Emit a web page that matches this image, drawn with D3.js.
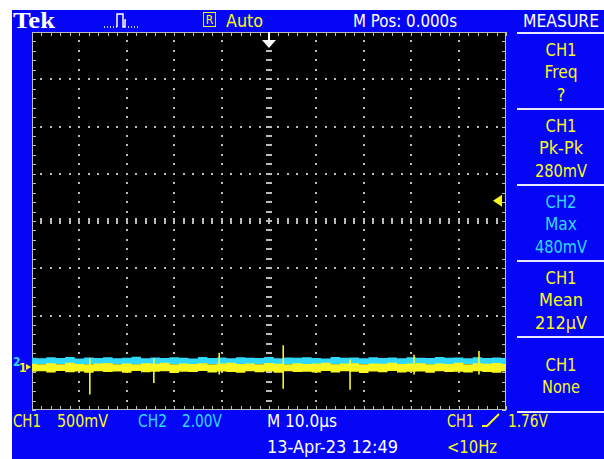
<!DOCTYPE html>
<html>
<head>
<meta charset="UTF-8">
<style>
  body { margin: 0; background: #fff; }
  svg { display: block; }
</style>
<script src="https://d3js.org/d3.v7.min.js"></script>
</head>
<body>
<svg id="scope"></svg>
<script>
// --- data ---
const timeDomain = [-50, 50];          // µs, 10 µs/div
const ch1VoltsPerDiv = 0.5, ch2VoltsPerDiv = 2.0;
const ch1Pos = -3.09, ch2Pos = -2.98;  // ground marker positions, divisions
const triggerLevel = 1.76;             // V on CH1

// envelope samples every 2 µs, in mV
const sampleTimes = d3.range(-50, 51, 2);
const ch1Hi = [35,30,40,28,45,33,30,38,42,30,36,28,40,34,45,30,38,32,41,29,36,44,31,38,30,42,35,28,40,33,37,45,30,36,41,29,38,34,44,31,36,40,28,37,33,45,30,39,35,42,32];
const ch1Lo = [-50,-45,-58,-42,-55,-48,-62,-44,-52,-47,-60,-43,-56,-50,-46,-63,-49,-54,-41,-58,-47,-52,-60,-45,-55,-48,-61,-44,-53,-50,-57,-42,-59,-46,-51,-64,-48,-55,-43,-58,-50,-47,-62,-45,-54,-49,-57,-44,-52,-60,-48];
const ch2Hi = [170,150,190,160,200,145,180,165,195,155,175,210,150,185,160,190,170,145,200,165,180,155,195,170,160,205,150,185,175,190,160,145,200,170,185,155,195,165,180,150,190,175,160,205,170,185,150,195,165,180,160];
const ch2Lo = [-110,-100,-120,-105,-95,-115,-100,-110,-125,-100,-105,-115,-95,-110,-120,-100,-105,-115,-110,-95,-100,-120,-105,-110,-100,-115,-95,-105,-120,-110,-100,-105,-115,-95,-110,-100,-120,-105,-110,-95,-115,-100,-110,-105,-120,-100,-95,-110,-115,-105,-100];

// glitches on CH1: time µs, high mV, low mV
const spikeTimes = [-37.8, -24.3, -10.5, 3.0, 17.1, 30.6, 44.3];
const spikeHi    = [90, 90, 150, 230, 80, 130, 170];
const spikeLo    = [-290, -170, -80, -230, -240, -80, -80];

// readouts
const measureBoxes = [
  ["CH1", "Freq", "?"],
  ["CH1", "Pk-Pk", "280mV"],
  ["CH2", "Max", "480mV"],
  ["CH1", "Mean", "212µV"],
  ["CH1", "None"]
];

const width = 604, height = 459;
const blue = "#0606f6", yellow = "#f8f820", cyan = "#30d8ff", grid = "#bcbcbc";
const uiFont = '"DejaVu Sans Condensed", "Liberation Sans Narrow", sans-serif';

const svg = d3.select("#scope").attr("width", width).attr("height", height);

svg.append("rect").attr("width", width).attr("height", height).attr("fill", "#fff");
svg.append("rect").attr("x", 12).attr("y", 10).attr("width", 592).attr("height", 449).attr("fill", blue);

// graticule
const gx0 = 32, gx1 = 506, gy0 = 32, gy1 = 410;
const x = d3.scaleLinear().domain(timeDomain).range([gx0, gx1]);
const yDiv = d3.scaleLinear().domain([-4, 4]).range([gy1, gy0]);
const y1 = mv => yDiv(mv / 1000 / ch1VoltsPerDiv + ch1Pos);
const y2 = mv => yDiv(mv / 1000 / ch2VoltsPerDiv + ch2Pos);

svg.append("rect").attr("x", gx0).attr("y", gy0).attr("width", gx1 - gx0).attr("height", gy1 - gy0).attr("fill", "#000");

const g = svg.append("g");
const minorX = d3.range(-50, 50.01, 2);
const minorY = d3.range(-4, 4.01, 0.2);

// border lines + ticks
g.append("rect").attr("x", gx0 + 0.5).attr("y", gy0 + 0.5).attr("width", gx1 - gx0 - 1).attr("height", gy1 - gy0 - 1)
  .attr("fill", "none").attr("stroke", grid);
minorX.forEach(t => {
  const px = Math.round(x(t)) + 0.5;
  g.append("line").attr("x1", px).attr("x2", px).attr("y1", gy0).attr("y2", gy0 + 4).attr("stroke", grid);
  g.append("line").attr("x1", px).attr("x2", px).attr("y1", gy1 - 4).attr("y2", gy1).attr("stroke", grid);
});
minorY.forEach(v => {
  const py = Math.round(yDiv(v)) + 0.5;
  g.append("line").attr("x1", gx0).attr("x2", gx0 + 4).attr("y1", py).attr("y2", py).attr("stroke", grid);
  g.append("line").attr("x1", gx1 - 4).attr("x2", gx1).attr("y1", py).attr("y2", py).attr("stroke", grid);
});

// dotted major lines
const majorX = d3.range(-40, 41, 10).filter(t => t !== 0);
const majorY = d3.range(-3, 4, 1).filter(v => v !== 0);
majorX.forEach(t => minorY.slice(1, -1).forEach(v => {
  g.append("rect").attr("x", Math.round(x(t)) - 1).attr("y", Math.round(yDiv(v)) - 1).attr("width", 2).attr("height", 2).attr("fill", grid);
}));
majorY.forEach(v => minorX.slice(1, -1).forEach(t => {
  g.append("rect").attr("x", Math.round(x(t)) - 1).attr("y", Math.round(yDiv(v)) - 1).attr("width", 2).attr("height", 2).attr("fill", grid);
}));
// centre crosshair dashes
minorY.slice(1, -1).forEach(v => {
  g.append("rect").attr("x", Math.round(x(0)) - 3).attr("y", Math.round(yDiv(v)) - 1).attr("width", 6).attr("height", 2).attr("fill", grid);
});
minorX.slice(1, -1).forEach(t => {
  g.append("rect").attr("x", Math.round(x(t)) - 1).attr("y", Math.round(yDiv(0)) - 3).attr("width", 2).attr("height", 6).attr("fill", grid);
});

// traces
const idx = d3.range(sampleTimes.length);
const band = (hi, lo, yf) => d3.area().curve(d3.curveStep)
  .x(i => x(sampleTimes[i])).y0(i => yf(lo[i])).y1(i => yf(hi[i]));

svg.append("path").datum(idx).attr("fill", cyan).attr("d", band(ch2Hi, ch2Lo, y2));
svg.append("path").datum(idx).attr("fill", yellow).attr("d", band(ch1Hi, ch1Lo, y1));

svg.append("g").selectAll("line").data(spikeTimes).join("line")
  .attr("x1", d => x(d)).attr("x2", d => x(d))
  .attr("y1", (d, i) => y1(spikeHi[i])).attr("y2", (d, i) => y1(spikeLo[i]))
  .attr("stroke", yellow).attr("stroke-width", 1.6);

// trigger position (top) and trigger level (right)
const tx = Math.round(x(0));
svg.append("line").attr("x1", tx).attr("x2", tx).attr("y1", gy0).attr("y2", 41).attr("stroke", "#fff").attr("stroke-width", 2);
svg.append("path").attr("d", `M${tx - 7},40H${tx + 7}L${tx},48Z`).attr("fill", "#fff");
const ty = yDiv(triggerLevel / ch1VoltsPerDiv + ch1Pos);
svg.append("path").attr("d", `M${gx1 - 13},${ty}L${gx1 - 4},${ty - 6}V${ty + 6}Z`).attr("fill", yellow);

// channel ground markers
svg.append("text").attr("x", 13).attr("y", y2(0) + 4).style("font-family", uiFont).attr("font-size", 12).attr("font-weight", "bold").attr("fill", cyan).text("2");
svg.append("text").attr("x", 19).attr("y", y1(0) + 5).style("font-family", uiFont).attr("font-size", 12).attr("font-weight", "bold").attr("fill", yellow).text("1");
svg.append("path").attr("d", `M26,${y1(0) - 3}L31,${y1(0)}L26,${y1(0) + 3}Z`).attr("fill", yellow);

// top bar
svg.append("text").attr("x", 13).attr("y", 28)
  .style("font-family", '"Liberation Serif", "DejaVu Serif", serif')
  .attr("font-weight", "bold").attr("font-size", 24).attr("fill", "#fff")
  .attr("textLength", 42).attr("lengthAdjust", "spacingAndGlyphs").text("Tek");
svg.append("path").attr("d", "M104,27h1m2,0h1m2,0h1m2,0h1m2,0h1M117,27V14H123V27H125V20H126M128,27h1m2,0h1m2,0h1m2,0h1")
  .attr("fill", "none").attr("stroke", "#fff").attr("stroke-width", 1.5);
svg.append("rect").attr("x", 203.5).attr("y", 12.5).attr("width", 12).attr("height", 14).attr("fill", "none").attr("stroke", yellow);
svg.append("text").attr("x", 209.5).attr("y", 24).attr("text-anchor", "middle").style("font-family", uiFont)
  .attr("font-size", 12).attr("fill", yellow).text("R");

function label(txt, xx, yy, w, color, anchor) {
  const t = svg.append("text").attr("x", xx).attr("y", yy).style("font-family", uiFont)
    .attr("font-size", 18).attr("fill", color)
    .attr("text-anchor", anchor || "start").text(txt);
  if (w) t.attr("textLength", w).attr("lengthAdjust", "spacingAndGlyphs");
  return t;
}
label("Auto", 226, 27, 37, yellow);
label("M Pos: 0.000s", 353, 27, 104, "#fff");
label("MEASURE", 523, 27, 76, "#fff");

// measure panel
const boxTops = [33, 109, 185, 261, 337];
const widths = { "CH1": 31, "CH2": 31, "Freq": 33, "Pk-Pk": 44, "280mV": 52, "Max": 32, "480mV": 52, "Mean": 44, "212µV": 52, "None": 38 };
boxTops.concat([412]).forEach(yy => {
  svg.append("line").attr("x1", 517).attr("x2", 604).attr("y1", yy).attr("y2", yy).attr("stroke", "#e8e8ff").attr("stroke-width", 2);
});
measureBoxes.forEach((lines, b) => {
  const color = lines[0] === "CH2" ? cyan : yellow;
  const offs = lines.length === 3 ? [23, 45, 68] : [34, 56];
  lines.forEach((s, i) => label(s, 561, boxTops[b] + offs[i], widths[s], color, "middle"));
});

// bottom readouts
label("CH1", 13, 427, 28, yellow);
label("500mV", 57, 427, 51, yellow);
label("CH2", 138, 427, 29, cyan);
label("2.00V", 182, 427, 40, cyan);
label("M 10.0µs", 267, 427, 70, "#fff");
label("13-Apr-23 12:49", 267, 453, 131, "#fff");
label("CH1", 447, 427, 27, yellow);
svg.append("path").attr("d", "M482,426H487L499,414").attr("fill", "none").attr("stroke", yellow).attr("stroke-width", 2);
label("1.76V", 508, 427, 40, yellow);
label("<10Hz", 447, 453, 50, yellow);
</script>
</body>
</html>
